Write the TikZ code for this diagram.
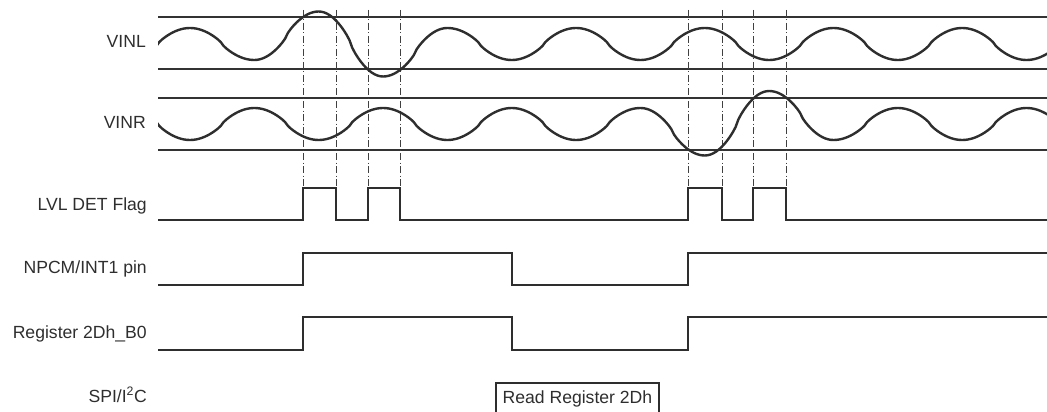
\documentclass[tikz,border=0pt]{standalone}
\usepackage{fontspec}
\setmainfont{Liberation Sans}
\setsansfont{Liberation Sans}
\usepackage{tikz}
\usetikzlibrary{calc, positioning}

\begin{document}
\begin{tikzpicture}[
    x=1pt, y=-1pt,
    font=\sffamily\fontsize{17.6pt}{21pt}\selectfont
]

    % Styles for the traces and the labels
    \tikzset{
        wave/.style={draw=black!82, line width=2.4pt, line join=round},
        level/.style={draw=black!82, line width=2.6pt},
        thresh/.style={draw=black!80, line width=1.1pt},
        marker/.style={draw=black!75, line width=0.9pt,
            dash pattern=on 7pt off 2.5pt on 1pt off 2.5pt},
        signame/.style={anchor=base east, text=black!82, inner sep=0pt},
        readbox/.style={draw=black!82, line width=2.2pt, anchor=north west,
            text=black!82, inner xsep=6.5pt, inner ysep=0pt,
            text height=20pt, text depth=14pt}
    }

    \useasboundingbox (0,0) rectangle (1047,412);

    % Signal names
    \node[signame] (nVINL) at (146,47.7) {VINL};
    \node[signame] (nVINR) at (146,128.3) {VINR};
    \node[signame] (nFlag) at (147,210) {LVL DET Flag};
    \node[signame] (nInt)  at (147,273) {NPCM/INT1 pin};
    \node[signame] (nReg)  at (147,338) {Register 2Dh\_B0};
    \node[signame] (nBus)  at (147,402) {SPI/I\textsuperscript{2}C};

    % Threshold lines of both inputs
    \foreach \y in {17,69,98,150}
        \draw[thresh] (158,\y) -- (1050,\y);

    % Threshold crossings
    \foreach \t in {303,336,368,400,688,722,753,786}
        \draw[marker] (\t,10) -- (\t,188);

    % Input waves: one half wave per extremum pair
    % half period 64.35, first extremum at 125.65
    \begin{scope}
        \clip (158,0) rectangle (1050,170);
        \draw[wave] (125.65,60)
            \foreach \ya/\yb [count=\k from 0] in
                {60/28, 28/60, 60/11.5, 11.5/76.5, 76.5/28, 28/60, 60/28,
                 28/60, 60/28, 28/60, 60/28, 28/60, 60/28, 28/60, 60/28}
            { -- plot[domain=0:180, samples=24]
                ({125.65+64.35*(\k+\x/180)},
                 {(\ya+\yb)/2+(\ya-\yb)/2*sign(cos(\x))*max(abs(cos(\x)),0.001)^0.8}) };
        \draw[wave] (125.65,108)
            \foreach \ya/\yb [count=\k from 0] in
                {108/140, 140/108, 108/140, 140/108, 108/140, 140/108, 108/140,
                 140/108, 108/155.5, 155.5/91, 91/140, 140/108, 108/140, 140/108, 108/140}
            { -- plot[domain=0:180, samples=24]
                ({125.65+64.35*(\k+\x/180)},
                 {(\ya+\yb)/2+(\ya-\yb)/2*sign(cos(\x))*max(abs(cos(\x)),0.001)^0.8}) };
    \end{scope}

    % Level detector flag
    \draw[level] (158,220) -| (303,188) -| (336,220) -| (368,188) -| (400,220)
        -| (688,188) -| (722,220) -| (753,188) -| (786,220) -- (1050,220);

    % Interrupt pin and status bit
    \draw[level] (158,285) -| (303,253) -| (512,285) -| (688,253) -- (1050,253);
    \draw[level] (158,350) -| (303,317) -| (512,350) -| (688,317) -- (1050,317);

    % Host read access
    \node[readbox] (rdReg) at (495,382) {Read Register 2Dh};

\end{tikzpicture}
\end{document}
